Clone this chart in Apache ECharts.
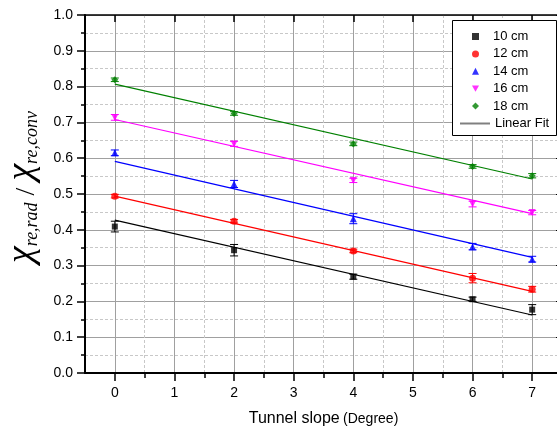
<!DOCTYPE html>
<html>
<head>
<meta charset="utf-8">
<script src="https://cdn.jsdelivr.net/npm/echarts@6/dist/echarts.min.js"></script>
<style>
  html, body { margin: 0; padding: 0; background: #fff; }
  #chart { width: 557px; height: 430px; }
</style>
</head>
<body>
<div id="chart"></div>
<script>
// tunnel slope (degree)
var slopes = [0, 2, 4, 6, 7];
var xMajor = [0, 1, 2, 3, 4, 5, 6, 7];
var xMinor = [0.5, 1.5, 2.5, 3.5, 4.5, 5.5, 6.5];

var names = ['10 cm', '12 cm', '14 cm', '16 cm', '18 cm'];
var colors = ['#000000', '#ff0000', '#0000ff', '#ff00ff', '#008000'];
var symbols = ['rect', 'circle', 'triangle', 'triangle', 'diamond'];
var rotates = [0, 0, 0, 180, 0];

// ratio chi_re,rad / chi_re,conv
var ratio10 = [0.409, 0.343, 0.269, 0.206, 0.177];
var ratio12 = [0.494, 0.424, 0.341, 0.265, 0.234];
var ratio14 = [0.615, 0.528, 0.431, 0.353, 0.318];
var ratio16 = [0.714, 0.640, 0.538, 0.472, 0.448];
var ratio18 = [0.819, 0.725, 0.640, 0.577, 0.551];

// error bar half heights
var err10 = [0.015, 0.016, 0.007, 0.006, 0.014];
var err12 = [0.005, 0.005, 0.005, 0.013, 0.008];
var err14 = [0.008, 0.010, 0.014, 0.009, 0.008];
var err16 = [0.008, 0.007, 0.006, 0.008, 0.006];
var err18 = [0.005, 0.005, 0.005, 0.005, 0.006];

// linear fit, value at slope 0 and slope 7
var fitX = [0, 7];
var fit10 = [0.427, 0.162];
var fit12 = [0.494, 0.228];
var fit14 = [0.591, 0.323];
var fit16 = [0.708, 0.445];
var fit18 = [0.807, 0.542];

var ratios = [ratio10, ratio12, ratio14, ratio16, ratio18];
var errs = [err10, err12, err14, err16, err18];
var fits = [fit10, fit12, fit14, fit16, fit18];

var chart = echarts.init(document.getElementById('chart'));
var font = 'Liberation Sans, Arial, sans-serif';
var serif = 'Liberation Serif, DejaVu Serif, serif';

function errorBars(color, values, e) {
  return {
    type: 'custom',
    silent: true,
    z: 3,
    data: slopes.map(function (x, i) { return [x, values[i] - e[i], values[i] + e[i]]; }),
    encode: { x: 0, y: [1, 2] },
    renderItem: function (params, api) {
      var lo = api.coord([api.value(0), api.value(1)]);
      var hi = api.coord([api.value(0), api.value(2)]);
      var w = 4;
      var st = { stroke: color, lineWidth: 1 };
      return {
        type: 'group',
        children: [
          { type: 'line', shape: { x1: lo[0], y1: lo[1], x2: hi[0], y2: hi[1] }, style: st },
          { type: 'line', shape: { x1: lo[0] - w, y1: lo[1], x2: lo[0] + w, y2: lo[1] }, style: st },
          { type: 'line', shape: { x1: hi[0] - w, y1: hi[1], x2: hi[0] + w, y2: hi[1] }, style: st }
        ]
      };
    }
  };
}

var series = [];
for (var k = 0; k < names.length; k++) {
  series.push({
    type: 'line',
    name: 'Linear Fit',
    xAxisIndex: 0,
    symbol: 'none',
    silent: true,
    z: 2,
    lineStyle: { color: colors[k], width: 1.2 },
    data: fitX.map(function (x, i) { return [x, fits[k][i]]; })
  });
  series.push(errorBars(colors[k], ratios[k], errs[k]));
  series.push({
    type: 'scatter',
    name: names[k],
    symbol: symbols[k],
    symbolRotate: rotates[k],
    symbolSize: symbols[k] == 'rect' ? 6 : 7,
    itemStyle: { color: colors[k] },
    z: 4,
    data: slopes.map(function (x, i) { return [x, ratios[k][i]]; })
  });
}

var legendText = { fontSize: 13, color: '#000', fontFamily: font };
var downTriangle = 'path://M0,0L10,0L5,9Z';

var option = {
  animation: false,
  backgroundColor: '#fff',
  grid: { left: 85, right: -5, top: 15, bottom: 57, outerBoundsMode: 'none', containLabel: false },
  graphic: [{
    type: 'rect',
    z: 9,
    shape: { x: 452.5, y: 20.5, width: 104, height: 115 },
    style: { fill: '#fff', stroke: '#000', lineWidth: 1 }
  }],
  legend: [{
    orient: 'vertical',
    z: 10,
    left: 472,
    top: 30,
    padding: 0,
    itemGap: 4.4,
    itemWidth: 7,
    itemHeight: 7,
    textStyle: Object.assign({ padding: [0, 0, 0, 9] }, legendText),
    data: names.map(function (n, i) {
      return rotates[i] ? { name: n, icon: downTriangle } : { name: n };
    })
  }, {
    orient: 'vertical',
    z: 10,
    left: 460,
    top: 117,
    padding: 0,
    itemWidth: 30,
    itemHeight: 2,
    textStyle: legendText,
    data: [{ name: 'Linear Fit', icon: 'rect', itemStyle: { color: '#808080' } }]
  }],
  xAxis: [{
    type: 'value',
    position: 'bottom',
    min: -0.5,
    max: 7.5,
    axisLine: { onZero: false, lineStyle: { color: '#000', width: 2 } },
    axisTick: { customValues: xMajor, length: 8, lineStyle: { color: '#000', width: 1.5 } },
    axisLabel: { customValues: xMajor, fontSize: 14, color: '#000', fontFamily: font, margin: 13 },
    splitLine: { show: true, lineStyle: { color: '#a0a0a0', width: 1 } },
    name: '{a|Tunnel slope} {b|(Degree)}',
    nameLocation: 'middle',
    nameGap: 38,
    nameTextStyle: {
      rich: {
        a: { fontSize: 16, color: '#000', fontFamily: font },
        b: { fontSize: 14, color: '#000', fontFamily: font }
      }
    }
  }, {
    type: 'value',
    position: 'bottom',
    min: -0.5,
    max: 7.5,
    axisLine: { show: false, onZero: false },
    axisTick: { customValues: xMinor, length: 5, lineStyle: { color: '#000', width: 1.5 } },
    axisLabel: { show: false },
    splitLine: { show: true, lineStyle: { color: '#c8c8c8', width: 1, type: [3, 2] } }
  }, {
    type: 'value',
    position: 'top',
    min: -0.5,
    max: 7.5,
    axisLine: { onZero: false, lineStyle: { color: '#000', width: 1.5 } },
    axisTick: { customValues: xMajor, inside: true, length: 7, lineStyle: { color: '#000', width: 1.5 } },
    axisLabel: { show: false },
    splitLine: { show: false }
  }],
  yAxis: [{
    type: 'value',
    position: 'left',
    min: 0,
    max: 1,
    interval: 0.1,
    axisLine: { show: true, onZero: false, lineStyle: { color: '#000', width: 2 } },
    axisTick: { show: true, length: 8, lineStyle: { color: '#000', width: 1.5 } },
    minorTick: { show: true, splitNumber: 2, length: 4, lineStyle: { color: '#000', width: 1.5 } },
    axisLabel: {
      fontSize: 14, color: '#000', fontFamily: font, margin: 12,
      formatter: function (v) { return v.toFixed(1); }
    },
    splitLine: { show: true, lineStyle: { color: '#a0a0a0', width: 1 } },
    minorSplitLine: { show: true, lineStyle: { color: '#c8c8c8', width: 1, type: [3, 2] } },
    name: '{c|χ}{s|re,rad}{p| / }{c|χ}{s|re,conv}',
    nameLocation: 'middle',
    nameRotate: 90,
    nameGap: 44,
    nameTextStyle: {
      padding: [0, 0, 0, 14],
      rich: {
        c: { fontSize: 38, fontStyle: 'italic', fontFamily: serif, color: '#000', verticalAlign: 'bottom', lineHeight: 34 },
        s: { fontSize: 18, fontStyle: 'italic', fontFamily: serif, color: '#000', verticalAlign: 'bottom', lineHeight: 26 },
        p: { fontSize: 28, fontFamily: serif, color: '#000', verticalAlign: 'bottom', lineHeight: 32 }
      }
    }
  }, {
    type: 'value',
    position: 'right',
    min: 0,
    max: 1,
    interval: 0.1,
    axisLine: { show: true, onZero: false, lineStyle: { color: '#000', width: 1 } },
    axisTick: { show: true, inside: true, length: 6, lineStyle: { color: '#000' } },
    axisLabel: { show: false },
    splitLine: { show: false }
  }],
  series: series
};

chart.setOption(option);
</script>
</body>
</html>
